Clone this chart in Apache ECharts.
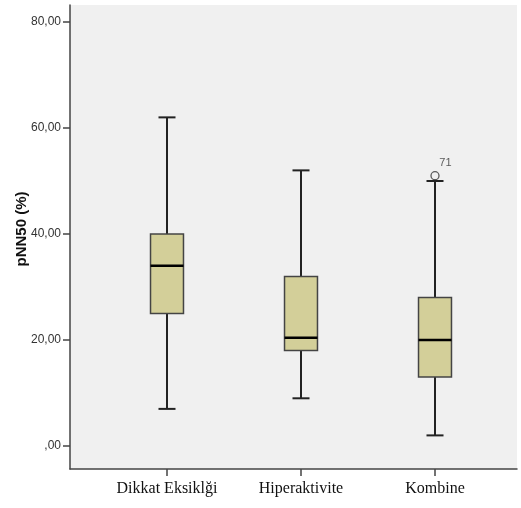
<!DOCTYPE html>
<html>
<head>
<meta charset="utf-8">
<script src="https://cdn.jsdelivr.net/npm/echarts@6/dist/echarts.min.js"></script>
<style>html,body{margin:0;padding:0;background:#fff;}#c{width:521px;height:508px;}</style>
</head>
<body>
<div id="c"></div>
<script>
const categories = ['Dikkat Eksiklği', 'Hiperaktivite', 'Kombine'];
const whiskerLow = [7, 9, 2];
const q1 = [25, 18, 13];
const median = [34, 20.4, 20];
const q3 = [40, 32, 28];
const whiskerHigh = [62, 52, 50];
const outliers = [[2, 51, '71']];
const yTicks = [0, 20, 40, 60, 80];
const yMin = -4.34, yMax = 83.2;

const boxData = categories.map((c, i) => [i, whiskerLow[i], q1[i], median[i], q3[i], whiskerHigh[i]]);

function fmt(v) { return v === 0 ? ',00' : v.toFixed(2).replace('.', ','); }

const chart = echarts.init(document.getElementById('c'));
chart.setOption({
  animation: false,
  backgroundColor: '#ffffff',
  grid: [
    { left: 70, right: 4, top: 5, bottom: 39, show: true, backgroundColor: '#f0f0f0', borderWidth: 0, containLabel: false, outerBoundsMode: 'none' },
    { left: 100, right: 19, top: 5, bottom: 39, show: false, containLabel: false, outerBoundsMode: 'none' }
  ],
  xAxis: [
    { gridIndex: 0, type: 'value', min: 0, max: 1,
      axisLine: { show: true, onZero: false, lineStyle: { color: '#444', width: 1.5 } },
      axisTick: { show: false }, axisLabel: { show: false }, splitLine: { show: false } },
    { gridIndex: 1, type: 'category', data: categories,
      axisLine: { show: false, onZero: false },
      axisTick: { show: true, alignWithLabel: true, length: 7, lineStyle: { color: '#444', width: 1.5 } },
      axisLabel: { margin: 12, fontFamily: 'Liberation Serif', fontSize: 16, color: '#111' } }
  ],
  yAxis: [
    { gridIndex: 0, type: 'value', min: yMin, max: yMax,
      name: 'pNN50 (%)', nameLocation: 'middle', nameGap: 41, nameMoveOverlap: false,
      nameTextStyle: { fontFamily: 'Liberation Sans', fontWeight: 'bold', fontSize: 15, color: '#111', padding: [0, 0, 0, 16] },
      axisLine: { show: true, onZero: false, lineStyle: { color: '#444', width: 1.5 } },
      axisTick: { show: true, length: 7, customValues: yTicks, lineStyle: { color: '#444', width: 1.5 } },
      axisLabel: { customValues: yTicks, formatter: fmt, margin: 9, fontFamily: 'Liberation Sans', fontSize: 12, color: '#333' },
      splitLine: { show: false } },
    { gridIndex: 1, type: 'value', min: yMin, max: yMax, show: false, splitLine: { show: false } }
  ],
  series: [
    {
      type: 'custom', xAxisIndex: 1, yAxisIndex: 1,
      data: boxData,
      encode: { x: 0, y: [1, 2, 3, 4, 5] },
      renderItem: function (params, api) {
        const idx = api.value(0);
        const band = api.size([1, 0])[0];
        const bw = band * 0.246, cw = band * 0.127;
        const pLo = api.coord([idx, api.value(1)]);
        const pQ1 = api.coord([idx, api.value(2)]);
        const pMed = api.coord([idx, api.value(3)]);
        const pQ3 = api.coord([idx, api.value(4)]);
        const pHi = api.coord([idx, api.value(5)]);
        const x = pMed[0];
        const lineStyle = { stroke: '#222', lineWidth: 2 };
        return {
          type: 'group',
          children: [
            { type: 'line', shape: { x1: x, y1: pHi[1], x2: x, y2: pQ3[1] }, style: lineStyle },
            { type: 'line', shape: { x1: x, y1: pQ1[1], x2: x, y2: pLo[1] }, style: lineStyle },
            { type: 'line', shape: { x1: x - cw / 2, y1: pHi[1], x2: x + cw / 2, y2: pHi[1] }, style: lineStyle },
            { type: 'line', shape: { x1: x - cw / 2, y1: pLo[1], x2: x + cw / 2, y2: pLo[1] }, style: lineStyle },
            { type: 'rect', shape: { x: x - bw / 2, y: pQ3[1], width: bw, height: pQ1[1] - pQ3[1] },
              style: { fill: '#d3cf99', stroke: '#444', lineWidth: 1.5 } },
            { type: 'line', shape: { x1: x - bw / 2, y1: pMed[1], x2: x + bw / 2, y2: pMed[1] },
              style: { stroke: '#000', lineWidth: 2.5 } }
          ]
        };
      }
    },
    {
      type: 'scatter', xAxisIndex: 1, yAxisIndex: 1,
      data: outliers.map(o => ({ value: [o[0], o[1]], name: o[2] })),
      symbol: 'circle', symbolSize: 8,
      itemStyle: { color: 'transparent', borderColor: '#333', borderWidth: 1.3 },
      label: { show: true, formatter: p => p.name, position: [9, -14], fontFamily: 'Liberation Sans', fontSize: 11, color: '#333' }
    }
  ]
});
</script>
</body>
</html>
